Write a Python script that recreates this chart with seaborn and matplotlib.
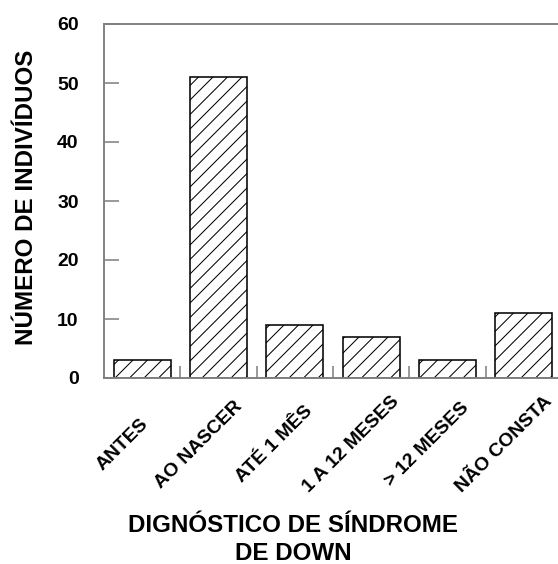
import matplotlib
matplotlib.use("Agg")
import matplotlib.pyplot as plt
import matplotlib.transforms as mtransforms
import seaborn as sns
import pandas as pd

categories = ["ANTES", "AO NASCER", "ATÉ 1 MÊS", "1 A 12 MESES", "> 12 MESES", "NÃO CONSTA"]
values = [3, 51, 9, 7, 3, 11]
yticks = [0, 10, 20, 30, 40, 50, 60]
ylabel = "NÚMERO DE INDIVÍDUOS"
xlabel = "DIGNÓSTICO DE SÍNDROME\nDE DOWN"

DPI = 87
sns.set_style("white")
plt.rcParams["font.family"] = ["Liberation Sans", "DejaVu Sans"]
plt.rcParams["text.color"] = "black"
plt.rcParams["axes.labelcolor"] = "black"
plt.rcParams["hatch.linewidth"] = 0.85
plt.rcParams["hatch.color"] = "black"

fig = plt.figure(figsize=(558 / DPI, 564 / DPI), dpi=DPI)
ax = fig.add_axes([104 / 558, 1 - 378 / 564, 458 / 558, 354 / 564])

df = pd.DataFrame({"cat": categories, "val": values})
sns.barplot(data=df, x="cat", y="val", ax=ax, color="white", edgecolor="black",
            linewidth=1.3, hatch="//", width=0.75, saturation=1)

ax.set_xlim(-0.5, 5.5)
ax.set_ylim(0, 60)
ax.set_yticks(yticks)
ax.set_yticklabels([str(v) for v in yticks], fontsize=16, fontweight="bold")

gray = "#808080"
for s in ax.spines.values():
    s.set_color(gray)
    s.set_linewidth(1.6)

ax.tick_params(axis="y", direction="in", length=12.4, width=1.3, color=gray,
               labelcolor="black", pad=21, left=True)
ax.set_xticks(range(len(categories)))
ax.set_xticks([i + 0.5 for i in range(len(categories))], minor=True)
ax.tick_params(axis="x", which="major", length=0, pad=55, labelcolor="black")
ax.tick_params(axis="x", which="minor", direction="in", length=10, width=1.3, color=gray, bottom=True)
ax.set_xticklabels(categories, rotation=45, rotation_mode="anchor", ha="center", va="center",
                   fontsize=16, fontweight="bold")
off = mtransforms.ScaledTranslation(-20 / DPI, 0, fig.dpi_scale_trans)
for lab in ax.get_xticklabels():
    lab.set_transform(lab.get_transform() + off)

ax.set_ylabel(ylabel, fontsize=20, fontweight="bold", color="black")
ax.yaxis.set_label_coords(-0.144, 0.51)
ax.set_xlabel(xlabel, fontsize=20, fontweight="bold", linespacing=1.25, color="black")
ax.xaxis.set_label_coords(0.413, -0.385)
ax.xaxis.label.set_va("top")

fig.savefig("out.png", dpi=DPI)
